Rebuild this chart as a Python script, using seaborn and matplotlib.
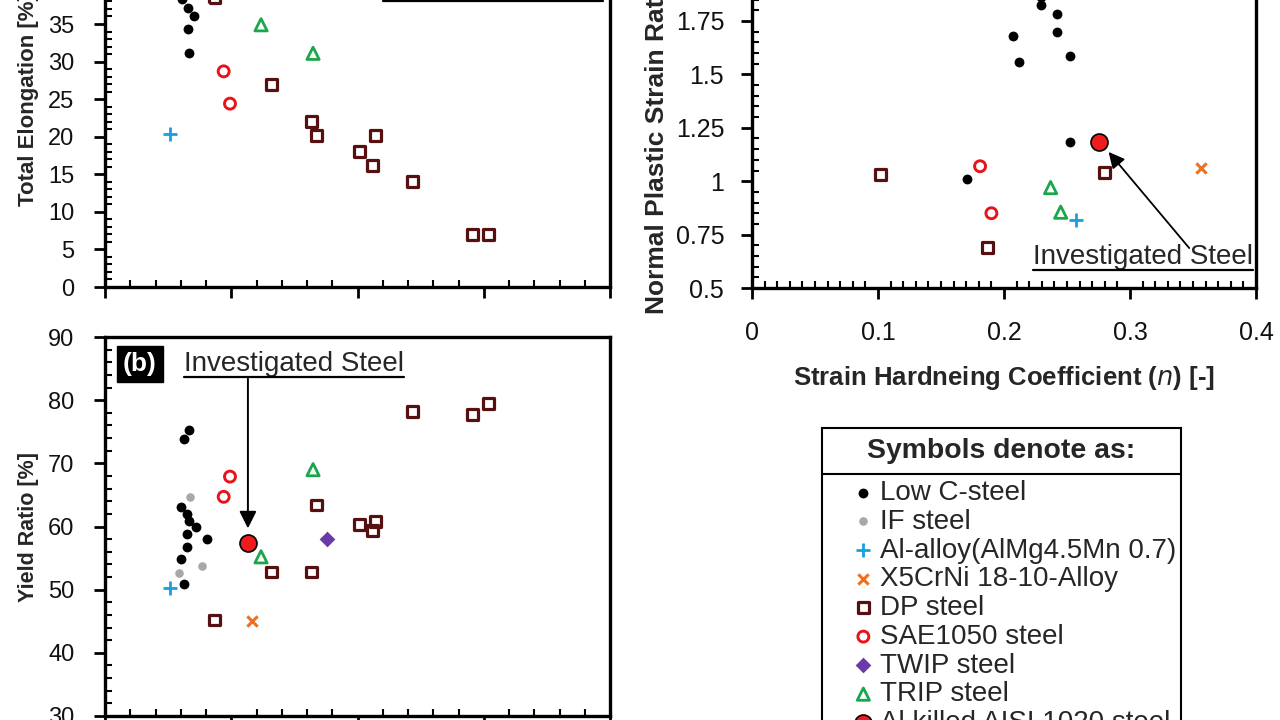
import matplotlib
matplotlib.use("Agg")
import matplotlib.pyplot as plt
import seaborn as sns
from matplotlib.lines import Line2D
from matplotlib.ticker import MultipleLocator, FuncFormatter

# ---- values ----
# panels (a) and (b) share the strength axis [MPa]; its title is below the crop
lowc_uts_a = [305, 329, 352, 329, 333]
lowc_elong = [38.3, 37.1, 36.0, 34.3, 31.2]
lowc_uts_b = [333, 313, 301, 325, 331, 360, 325, 404, 325, 301, 313]
lowc_yr = [75.2, 73.9, 63.1, 62.0, 60.8, 60.0, 58.8, 58.0, 56.8, 54.9, 50.9]

if_uts = [336, 293, 384]
if_yr = [64.7, 52.6, 53.8]

al_uts = [257]
al_elong = [20.4]
al_yr = [50.2]

x5_uts = [582]
x5_yr = [45.0]

dp_uts = [432, 658, 818, 838, 1008, 1060, 1070, 1216, 1457, 1518]
dp_elong = [38.5, 27.0, 22.0, 20.2, 18.0, 16.2, 20.2, 14.0, 7.0, 7.0]
dp_yr = [45.2, 52.8, 52.8, 63.4, 60.3, 59.4, 60.8, 78.2, 77.7, 79.4]

sae_uts = [470, 495]
sae_elong = [28.7, 24.4]
sae_yr = [64.7, 67.9]

twip_uts = [878]
twip_yr = [58.0]

trip_uts = [618, 824]
trip_elong = [34.9, 31.1]
trip_yr = [55.2, 69.0]

inv_uts = [566]
inv_yr = [57.4]

# panel (c): strain hardening coefficient n vs normal plastic strain ratio r
lowc_n = [0.229, 0.229, 0.242, 0.242, 0.207, 0.212, 0.252, 0.252, 0.171]
lowc_r = [1.862, 1.826, 1.783, 1.699, 1.680, 1.558, 1.586, 1.184, 1.010]
dp_n = [0.102, 0.187, 0.280]
dp_r = [1.03, 0.69, 1.04]
sae_n = [0.181, 0.190]
sae_r = [1.07, 0.85]
trip_n = [0.237, 0.245]
trip_r = [0.97, 0.855]
al_n = [0.257]
al_r = [0.82]
x5_n = [0.356]
x5_r = [1.06]
inv_n = [0.275]
inv_r = [1.184]

STYLES = {
    "Low C-steel": dict(kind="filled", marker="o", color="black", s=50),
    "IF steel": dict(kind="filled", marker="o", color="#a8a8a8", s=38),
    "Al-alloy(AlMg4.5Mn 0.7)": dict(kind="line", marker="+", color="#1a9fe0", s=110, lw=2.0),
    "X5CrNi 18-10-Alloy": dict(kind="line", marker="x", color="#f07020", s=55, lw=2.2),
    "DP steel": dict(kind="open", marker="s", color="#561010", s=62, lw=2.3),
    "SAE1050 steel": dict(kind="open", marker="o", color="#e8141c", s=62, lw=2.1),
    "TWIP steel": dict(kind="filled", marker="D", color="#6a3aa8", s=64),
    "TRIP steel": dict(kind="open", marker="^", color="#1aa64a", s=78, lw=2.0),
    "Al killed AISI 1020 steel": dict(kind="filled", marker="o", color="#ee1c1c", s=150,
                                      ec="black", lw=1.2, z=6),
}


def draw(ax, name, x, y):
    st = STYLES[name]
    kw = dict(x=x, y=y, ax=ax, marker=st["marker"], s=st["s"], label=name,
              legend=False, zorder=st.get("z", 4), clip_on=False)
    if st["kind"] == "filled":
        kw.update(color=st["color"], edgecolor=st.get("ec", st["color"]),
                  linewidth=st.get("lw", 0))
    elif st["kind"] == "open":
        kw.update(color=st["color"], facecolor="none", edgecolor=st["color"],
                  linewidth=st["lw"])
    else:
        kw.update(color=st["color"], linewidth=st["lw"])
    sns.scatterplot(**kw)


def style_axes(ax, xlim, ylim, xmaj, xmin, ymaj, ymin, ypad, size=17):
    ax.set_xlim(*xlim)
    ax.set_ylim(*ylim)
    ax.xaxis.set_major_locator(MultipleLocator(xmaj))
    ax.xaxis.set_minor_locator(MultipleLocator(xmin))
    ax.yaxis.set_major_locator(MultipleLocator(ymaj))
    ax.yaxis.set_minor_locator(MultipleLocator(ymin))
    fmt = FuncFormatter(lambda v, _: f"{v:g}")
    ax.xaxis.set_major_formatter(fmt)
    ax.yaxis.set_major_formatter(fmt)
    ax.tick_params(which="major", direction="out", length=8, width=2,
                   labelsize=size, color="black", labelcolor="#111111",
                   left=True, bottom=True)
    ax.tick_params(axis="y", which="major", pad=ypad)
    ax.tick_params(axis="x", which="major", pad=14)
    ax.tick_params(which="minor", direction="in", length=5, width=1.5,
                   color="black", left=True, bottom=True)
    for sp in ax.spines.values():
        sp.set_visible(True)
        sp.set_linewidth(2.4)
        sp.set_color("black")
    ax.grid(False)


def underline(fig, txt, lw=1.6):
    bb = txt.get_window_extent(fig.canvas.get_renderer())
    fig.add_artist(Line2D([bb.x0, bb.x1], [bb.y0, bb.y0], transform=None,
                          color="black", linewidth=lw))


sns.set_theme(style="ticks")
plt.rcParams["font.family"] = ["Liberation Sans", "DejaVu Sans"]

W, H = 1280, 720
fig = plt.figure(figsize=(W / 100, H / 100), dpi=100)
fig.patch.set_facecolor("white")

ax_a = fig.add_axes([105 / W, 433 / H, 505 / W, 375.7 / H])
ax_b = fig.add_axes([105 / W, 4 / H, 505 / W, 379 / H])
ax_c = fig.add_axes([752 / W, 432 / H, 504 / W, 320.4 / H])

# (a) total elongation
draw(ax_a, "Low C-steel", lowc_uts_a, lowc_elong)
draw(ax_a, "Al-alloy(AlMg4.5Mn 0.7)", al_uts, al_elong)
draw(ax_a, "DP steel", dp_uts, dp_elong)
draw(ax_a, "SAE1050 steel", sae_uts, sae_elong)
draw(ax_a, "TRIP steel", trip_uts, trip_elong)
style_axes(ax_a, (0, 2000), (0, 50), 500, 100, 5, 1, 14)
ax_a.tick_params(labelbottom=False)
ax_a.set_ylabel("Total Elongation [%]", fontsize=16, fontweight="bold")
ax_a.yaxis.set_label_coords(-0.13, 0.5)

# (b) yield ratio
draw(ax_b, "Low C-steel", lowc_uts_b, lowc_yr)
draw(ax_b, "IF steel", if_uts, if_yr)
draw(ax_b, "Al-alloy(AlMg4.5Mn 0.7)", al_uts, al_yr)
draw(ax_b, "X5CrNi 18-10-Alloy", x5_uts, x5_yr)
draw(ax_b, "DP steel", dp_uts, dp_yr)
draw(ax_b, "SAE1050 steel", sae_uts, sae_yr)
draw(ax_b, "TWIP steel", twip_uts, twip_yr)
draw(ax_b, "TRIP steel", trip_uts, trip_yr)
draw(ax_b, "Al killed AISI 1020 steel", inv_uts, inv_yr)
style_axes(ax_b, (0, 2000), (30, 90), 500, 100, 10, 2, 14)
ax_b.set_ylabel("Yield Ratio [%]", fontsize=15.5, fontweight="bold")
ax_b.yaxis.set_label_coords(-0.13, 0.5)

# (c) r-value vs n-value
draw(ax_c, "Low C-steel", lowc_n, lowc_r)
draw(ax_c, "Al-alloy(AlMg4.5Mn 0.7)", al_n, al_r)
draw(ax_c, "X5CrNi 18-10-Alloy", x5_n, x5_r)
draw(ax_c, "DP steel", dp_n, dp_r)
draw(ax_c, "SAE1050 steel", sae_n, sae_r)
draw(ax_c, "TRIP steel", trip_n, trip_r)
draw(ax_c, "Al killed AISI 1020 steel", inv_n, inv_r)
style_axes(ax_c, (0, 0.4), (0.5, 2.0), 0.1, 0.01, 0.25, 0.05, 12, size=18)
ax_c.tick_params(axis="x", which="major", pad=16)
ax_c.set_ylabel("Normal Plastic Strain Ratio [-]", fontsize=19, fontweight="bold")
ax_c.yaxis.set_label_coords(-0.165, 0.5)
ax_c.set_xlabel("Strain Hardneing Coefficient ($\\mathit{n}$) [-]", fontsize=18.5,
                fontweight="bold")
ax_c.xaxis.set_label_coords(0.5, -0.238)

# annotations for the investigated steel
t_a = ax_a.text(1101, 39.8, "Investigated Steel", fontsize=20, ha="left", va="center")
t_b = ax_b.text(313, 85.8, "Investigated Steel", fontsize=20, ha="left", va="center")
ax_b.text(0.069, 0.929, "(b)", transform=ax_b.transAxes, fontsize=19, fontweight="bold",
          color="white", ha="center", va="center",
          bbox=dict(boxstyle="square,pad=0.22", fc="black", ec="black"))
ax_b.annotate("", xy=(inv_uts[0], inv_yr[0] + 2.3), xytext=(inv_uts[0], 83.4),
              arrowprops=dict(arrowstyle="-|>", color="black", lw=1.4,
                              mutation_scale=26, shrinkA=0, shrinkB=0))
t_c = ax_c.text(0.223, 0.645, "Investigated Steel", fontsize=20, ha="left", va="center")
ax_c.annotate("", xy=(inv_n[0] + 0.008, inv_r[0] - 0.047), xytext=(0.347, 0.687),
              arrowprops=dict(arrowstyle="-|>", color="black", lw=1.3,
                              mutation_scale=24, shrinkA=0, shrinkB=0))

# legend box
ax_leg = fig.add_axes([822 / W, -25 / H, 359 / W, 317 / H])
ax_leg.set_xlim(0, 1)
ax_leg.set_ylim(0, 1)
ax_leg.set_xticks([])
ax_leg.set_yticks([])
for sp in ax_leg.spines.values():
    sp.set_linewidth(1.5)
    sp.set_color("black")
ax_leg.axhline((745 - 474) / 317, color="black", linewidth=1.5)
ax_leg.text(0.5, (745 - 451) / 317, "Symbols denote as:", fontsize=20.4, fontweight="bold",
            ha="center", va="center")
handles, labels = ax_b.get_legend_handles_labels()
ax_leg.legend(handles, labels, loc="upper left", bbox_to_anchor=(0.092, 0.836),
              frameon=False, fontsize=20, handlelength=0.6, handletextpad=0.3,
              labelspacing=0.1, borderpad=0, borderaxespad=0, scatterpoints=1)

fig.canvas.draw()
for t in (t_a, t_b, t_c):
    underline(fig, t)

fig.savefig("out.png", dpi=100, facecolor="white")
plt.close(fig)
